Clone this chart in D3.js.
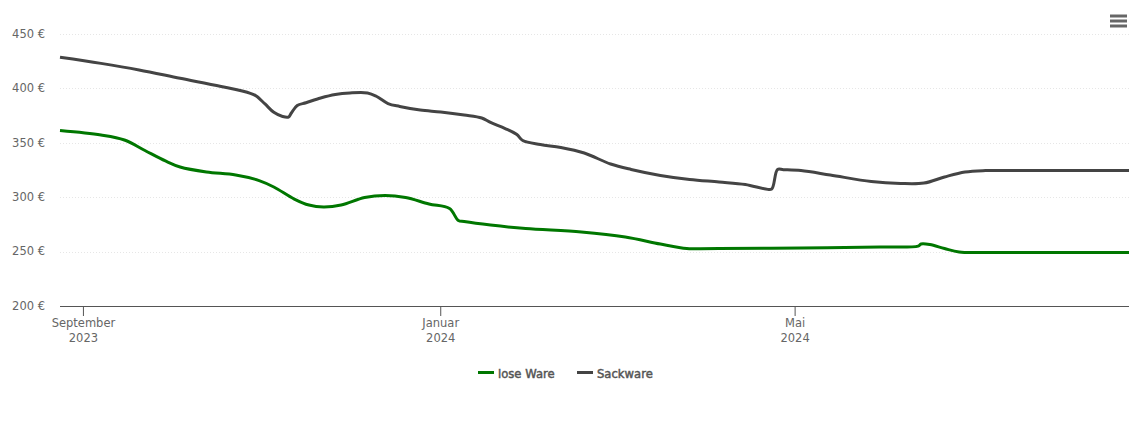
<!DOCTYPE html>
<html>
<head>
<meta charset="utf-8">
<script src="https://cdn.jsdelivr.net/npm/d3@7"></script>
<style>
  body { margin: 0; background: #fff; }
  svg, svg text { font-family: "DejaVu Sans", sans-serif; }
  svg { display: block; }
  .grid line { stroke: #e6e6e6; stroke-width: 1; stroke-dasharray: 1 2; }
  .grid path { display: none; }
  .yaxis path, .yaxis line { display: none; }
  .yaxis text, .xaxis text { fill: #666; font-size: 11.5px; }
  .xaxis path, .xaxis line { stroke: #555; }
  .legend text { fill: #555; font-size: 11.6px; stroke: #555; stroke-width: 0.45px; }
</style>
</head>
<body>
<div id="chart"></div>
<script>
var looseDates = ["2023-08-24","2023-09-07","2023-09-15","2023-09-22","2023-09-29","2023-10-04","2023-10-13","2023-10-23","2023-10-31","2023-11-05","2023-11-12","2023-11-17","2023-11-22","2023-11-28","2023-12-06","2023-12-13","2023-12-20","2023-12-28","2024-01-04","2024-01-07","2024-01-09","2024-01-18","2024-01-30","2024-02-18","2024-03-04","2024-03-16","2024-03-25","2024-03-29","2024-04-05","2024-05-03","2024-05-30","2024-06-12","2024-06-13","2024-06-16","2024-06-21","2024-06-26","2024-07-05","2024-07-20","2024-08-23"];
var looseValues = [361.3,357.2,352.6,342.9,333.3,327.8,323.2,320.4,315.3,309.4,298.3,292.8,291,292.8,299.7,301.6,299.7,293.8,289.6,278.6,277.6,274.4,271.2,268,263.4,256.9,252.8,252.7,252.8,253.3,254.2,255.1,257,256.5,252.8,249.6,249.2,249.2,249.2];

var sackDates = ["2023-08-24","2023-09-07","2023-09-20","2023-10-04","2023-10-18","2023-10-28","2023-10-30","2023-11-02","2023-11-05","2023-11-08","2023-11-10","2023-11-11","2023-11-13","2023-11-16","2023-11-21","2023-11-26","2023-12-01","2023-12-07","2023-12-10","2023-12-14","2023-12-18","2023-12-25","2024-01-01","2024-01-09","2024-01-15","2024-01-18","2024-01-23","2024-01-27","2024-01-29","2024-02-04","2024-02-11","2024-02-19","2024-02-28","2024-03-06","2024-03-16","2024-03-26","2024-04-05","2024-04-14","2024-04-21","2024-04-23","2024-04-25","2024-04-27","2024-05-03","2024-05-13","2024-05-27","2024-06-06","2024-06-14","2024-06-21","2024-06-28","2024-07-05","2024-07-20","2024-08-23"];
var sackValues = [428.6,423,417,409.3,401.8,395.5,393,385.7,378,374.2,373.7,377.4,384.3,386.8,391.2,394.4,395.8,395.8,392.8,386.1,383.4,380.1,378.3,375.5,372.8,368.7,363.1,357.6,352.1,348.4,345.7,340.6,330.5,325.5,320,316.3,314,311.7,307.5,307.5,325.5,325.3,324.5,320.4,314.4,312.6,313,318.6,323.2,324.5,324.5,324.5];

var yTicks = [200, 250, 300, 350, 400, 450];
var xTickDates = ["2023-09-01", "2024-01-01", "2024-05-01"];
var xTickLabels = [["September", "2023"], ["Januar", "2024"], ["Mai", "2024"]];
var seriesNames = ["lose Ware", "Sackware"];
var seriesColors = ["#007700", "#444444"];

var width = 1140, height = 434;
var parseDate = d3.timeParse("%Y-%m-%d");

var svg = d3.select("#chart").append("svg")
    .attr("width", width)
    .attr("height", height);

var x = d3.scaleTime()
    .domain([parseDate("2023-08-24"), parseDate("2024-08-23")])
    .range([60, 1129]);

var y = d3.scaleLinear()
    .domain([200, 450])
    .range([306, 34]);

// gridlines
svg.append("g")
    .attr("class", "grid")
    .attr("transform", "translate(60,0)")
    .call(d3.axisLeft(y).tickValues(yTicks.slice(1)).tickSize(-1069).tickFormat(""))
    .selectAll("line")
    .attr("shape-rendering", "crispEdges");

// y labels
var yAxis = svg.append("g")
    .attr("class", "yaxis")
    .attr("transform", "translate(45,0)")
    .call(d3.axisLeft(y).tickValues(yTicks).tickSize(0).tickPadding(0).tickFormat(function(d) { return d + " €"; }));
yAxis.select(".domain").remove();
yAxis.selectAll("text").attr("dy", "0.28em");

// x axis
var xAxis = svg.append("g")
    .attr("class", "xaxis")
    .attr("transform", "translate(-0.5,306)")
    .call(d3.axisBottom(x).tickValues(xTickDates.map(parseDate)).tickSize(10).tickSizeOuter(0).tickFormat(""));

xAxis.selectAll(".tick").each(function(d, i) {
    var label = d3.select(this).select("text").attr("y", 21).attr("dy", 0);
    label.selectAll("tspan")
        .data(xTickLabels[i])
        .enter().append("tspan")
        .attr("x", 0)
        .attr("y", function(t, j) { return 21 + j * 15; })
        .text(function(t) { return t; });
});

// lines
var line = d3.line()
    .x(function(d) { return x(d.date); })
    .y(function(d) { return y(d.value); })
    .curve(d3.curveCatmullRom.alpha(0.5));

function makeSeries(dates, values) {
    return dates.map(function(d, i) { return { date: parseDate(d), value: values[i] }; });
}

var allSeries = [makeSeries(looseDates, looseValues), makeSeries(sackDates, sackValues)];

svg.selectAll(".series")
    .data(allSeries)
    .enter().append("path")
    .attr("class", "series")
    .attr("fill", "none")
    .attr("stroke", function(d, i) { return seriesColors[i]; })
    .attr("stroke-width", 3)
    .attr("stroke-linejoin", "round")
    .attr("d", line);

// legend
var legend = svg.append("g").attr("class", "legend");
var legendX = [478, 577];

seriesNames.forEach(function(name, i) {
    legend.append("line")
        .attr("x1", legendX[i])
        .attr("x2", legendX[i] + 16)
        .attr("y1", 372.5)
        .attr("y2", 372.5)
        .attr("stroke", seriesColors[i])
        .attr("stroke-width", 3);
    legend.append("text")
        .attr("x", legendX[i] + 20)
        .attr("y", 377.5)
        .text(name);
});

// menu icon
var menuBars = [16, 21, 26];
svg.selectAll(".menu")
    .data(menuBars)
    .enter().append("line")
    .attr("class", "menu")
    .attr("x1", 1110)
    .attr("x2", 1127)
    .attr("y1", function(d) { return d; })
    .attr("y2", function(d) { return d; })
    .attr("stroke", "#666")
    .attr("stroke-width", 3);
</script>
</body>
</html>
